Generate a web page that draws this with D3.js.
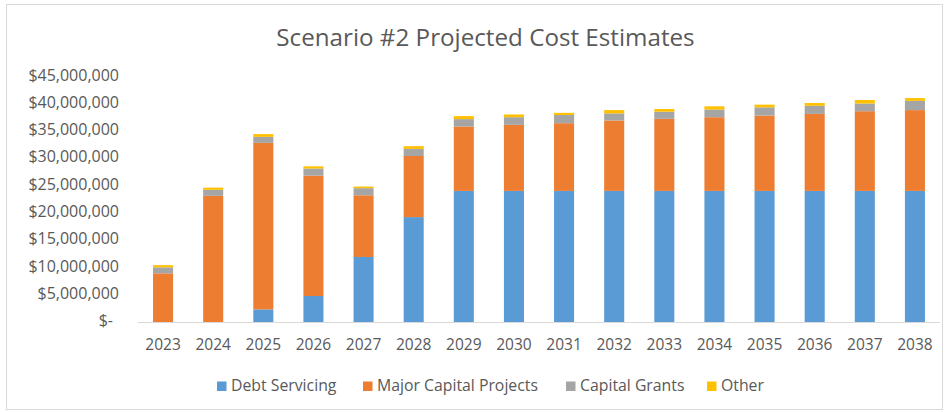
<!DOCTYPE html>
<html>
<head>
<meta charset="utf-8">
<script src="https://cdn.jsdelivr.net/npm/d3@7"></script>
<style>
  html, body { margin: 0; padding: 0; background: #fff; }
  svg { display: block; font-family: "Open Sans", "Noto Sans", sans-serif; }
</style>
</head>
<body>
<svg id="chart" width="945" height="412"></svg>
<script>
// ---- Data (values in dollars) ----
const years = ["2023","2024","2025","2026","2027","2028","2029","2030","2031","2032","2033","2034","2035","2036","2037","2038"];
const debtServicing = [0, 0, 2400000, 4850000, 12000000, 19300000, 24100000, 24100000, 24100000, 24100000, 24100000, 24100000, 24100000, 24100000, 24100000, 24100000];
const majorCapitalProjects = [9000000, 23200000, 30500000, 22050000, 11300000, 11200000, 11800000, 12100000, 12400000, 12900000, 13200000, 13500000, 13800000, 14100000, 14600000, 14800000];
const capitalGrants = [1100000, 1100000, 1100000, 1300000, 1300000, 1300000, 1350000, 1400000, 1500000, 1300000, 1300000, 1400000, 1500000, 1500000, 1400000, 1700000];
const other = [400000, 400000, 500000, 400000, 300000, 500000, 550000, 500000, 400000, 600000, 500000, 600000, 500000, 500000, 650000, 500000];
const seriesNames = ["Debt Servicing", "Major Capital Projects", "Capital Grants", "Other"];
const seriesColors = ["#5B9BD5", "#ED7D31", "#A5A5A5", "#FFC000"];
const yTicks = [0, 5000000, 10000000, 15000000, 20000000, 25000000, 30000000, 35000000, 40000000, 45000000];
const title = "Scenario #2 Projected Cost Estimates";

// ---- Build table ----
const keys = ["debt", "major", "grants", "other"];
const table = years.map((y, i) => ({
  year: y, debt: debtServicing[i], major: majorCapitalProjects[i], grants: capitalGrants[i], other: other[i]
}));
const stacked = d3.stack().keys(keys)(table);

const svg = d3.select("#chart");
const W = 945, H = 412;
const textColor = "#595959";

// chart frame
svg.append("rect").attr("x", 6.5).attr("y", 4.5).attr("width", W - 9).attr("height", H - 7)
  .attr("fill", "#fff").attr("stroke", "#D9D9D9").attr("stroke-width", 1);

const x = d3.scaleBand().domain(years).range([138, 940]).paddingInner(0.6).paddingOuter(0.3);
const y = d3.scaleLinear().domain([0, 45000000]).range([322.5, 76.8]);

// title
svg.append("text").attr("x", 485.5).attr("y", 46).attr("text-anchor", "middle")
  .attr("font-size", 24.2).attr("fill", textColor).text(title);

// bars
svg.append("g").selectAll("g").data(stacked).join("g")
  .attr("fill", (d, i) => seriesColors[i])
  .selectAll("rect").data(d => d).join("rect")
  .attr("x", d => x(d.data.year))
  .attr("width", x.bandwidth())
  .attr("y", d => y(d[1]))
  .attr("height", d => Math.max(0, y(d[0]) - y(d[1])));

// baseline
svg.append("line").attr("x1", 138).attr("x2", 940).attr("y1", y(0)).attr("y2", y(0))
  .attr("stroke", "#D9D9D9").attr("stroke-width", 1);

// y axis labels
const fmt = v => v === 0 ? "$-" : "$" + d3.format(",")(v);
const yAxis = d3.axisLeft(y).tickValues(yTicks).tickFormat(fmt).tickSize(0).tickPadding(0);
const gy = svg.append("g").attr("transform", "translate(119,0)").call(yAxis);
gy.select(".domain").remove();
gy.selectAll("text").attr("font-size", 16).attr("fill", textColor)
  .attr("font-family", "\"Open Sans\", sans-serif")
  .attr("dy", "0.2em")
  .attr("dx", (d) => d === 0 ? -6 : 0);

// x axis labels
const xAxis = d3.axisBottom(x).tickSize(0).tickPadding(0);
const gx = svg.append("g").attr("transform", "translate(0,339)").call(xAxis);
gx.select(".domain").remove();
gx.selectAll("text").attr("font-size", 15.5).attr("fill", textColor)
  .attr("font-family", "\"Open Sans\", sans-serif");

// legend
const legendX = [217, 363, 566, 707];
const lg = svg.append("g");
seriesNames.forEach((name, i) => {
  lg.append("rect").attr("x", legendX[i]).attr("y", 381.5).attr("width", 9.5).attr("height", 9.5)
    .attr("fill", seriesColors[i]);
  lg.append("text").attr("x", legendX[i] + 14).attr("y", 391).attr("font-size", 15.8)
    .attr("fill", textColor).text(name);
});
</script>
</body>
</html>
